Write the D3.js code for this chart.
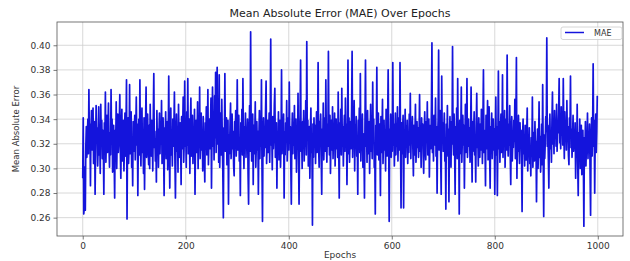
<!DOCTYPE html>
<html>
<head>
<meta charset="utf-8">
<script src="https://cdn.jsdelivr.net/npm/d3@7"></script>
<style>
  body { margin: 0; background: #fff; }
  text { font-family: "DejaVu Sans", sans-serif; }
</style>
</head>
<body>
<div id="chart"></div>
<script>
const title = "Mean Absolute Error (MAE) Over Epochs";
const xLabel = "Epochs";
const yLabel = "Mean Absolute Error";
const seriesName = "MAE";
const xTicks = [0, 200, 400, 600, 800, 1000];
const yTicks = [0.26, 0.28, 0.30, 0.32, 0.34, 0.36, 0.38, 0.40];

// MAE per epoch (epochs 0..999)
const mae = [
  // 0-49
  0.292,0.341,0.263,0.268,0.301,0.266,0.318,0.334,0.309,0.327,
  0.340,0.312,0.364,0.321,0.336,0.286,0.330,0.347,0.315,0.329,
  0.349,0.304,0.325,0.338,0.279,0.317,0.351,0.322,0.333,0.302,
  0.319,0.350,0.311,0.328,0.296,0.352,0.324,0.339,0.308,0.331,
  0.316,0.279,0.337,0.320,0.362,0.305,0.326,0.343,0.313,0.334,
  // 50-99
  0.353,0.318,0.301,0.329,0.311,0.364,0.325,0.340,0.297,0.322,
  0.335,0.309,0.276,0.331,0.318,0.354,0.300,0.327,0.344,0.313,
  0.321,0.337,0.360,0.315,0.292,0.330,0.348,0.306,0.324,0.339,
  0.298,0.319,0.345,0.310,0.333,0.372,0.259,0.323,0.341,0.304,
  0.317,0.368,0.312,0.329,0.346,0.301,0.320,0.286,0.338,0.326,
  // 100-149
  0.314,0.343,0.307,0.331,0.358,0.319,0.336,0.278,0.325,0.340,
  0.311,0.372,0.318,0.302,0.334,0.349,0.313,0.327,0.296,0.341,
  0.283,0.322,0.338,0.366,0.309,0.329,0.344,0.316,0.303,0.335,
  0.300,0.352,0.321,0.310,0.339,0.326,0.298,0.343,0.377,0.317,
  0.330,0.306,0.324,0.289,0.347,0.315,0.332,0.301,0.328,0.345,
  // 150-199
  0.312,0.336,0.320,0.355,0.304,0.327,0.341,0.315,0.278,0.333,
  0.319,0.346,0.308,0.325,0.338,0.299,0.322,0.375,0.316,0.284,
  0.330,0.349,0.311,0.326,0.302,0.340,0.318,0.333,0.362,0.307,
  0.276,0.323,0.344,0.314,0.331,0.297,0.352,0.320,0.309,0.337,
  0.324,0.287,0.342,0.316,0.329,0.358,0.305,0.321,0.371,0.318,
  // 200-249
  0.333,0.301,0.346,0.319,0.373,0.312,0.328,0.340,0.296,0.335,
  0.357,0.310,0.325,0.343,0.304,0.331,0.318,0.348,0.279,0.322,
  0.339,0.313,0.327,0.354,0.300,0.336,0.317,0.366,0.308,0.324,
  0.345,0.315,0.331,0.298,0.342,0.320,0.309,0.289,0.337,0.326,
  0.350,0.311,0.329,0.364,0.303,0.323,0.340,0.316,0.334,0.357,
  // 250-299
  0.284,0.331,0.366,0.318,0.342,0.307,0.359,0.325,0.378,0.313,
  0.336,0.382,0.320,0.349,0.305,0.376,0.301,0.328,0.345,0.311,
  0.356,0.322,0.297,0.260,0.333,0.318,0.377,0.314,0.329,0.341,
  0.303,0.324,0.339,0.271,0.327,0.312,0.335,0.353,0.308,0.321,
  0.344,0.316,0.330,0.302,0.294,0.338,0.319,0.347,0.310,0.326,
  // 300-349
  0.372,0.315,0.329,0.343,0.306,0.322,0.278,0.337,0.318,0.348,
  0.311,0.373,0.326,0.300,0.334,0.317,0.345,0.309,0.331,0.323,
  0.340,0.296,0.271,0.328,0.351,0.314,0.411,0.332,0.306,0.320,
  0.344,0.287,0.335,0.312,0.327,0.354,0.301,0.319,0.338,0.315,
  0.330,0.279,0.324,0.347,0.308,0.336,0.318,0.372,0.303,0.257,
  // 350-399
  0.326,0.341,0.310,0.333,0.317,0.348,0.371,0.304,0.322,0.339,
  0.313,0.328,0.345,0.305,0.336,0.405,0.319,0.331,0.299,0.342,
  0.316,0.327,0.352,0.365,0.309,0.323,0.337,0.284,0.330,0.314,
  0.346,0.307,0.325,0.339,0.301,0.318,0.380,0.312,0.333,0.320,
  0.344,0.276,0.329,0.311,0.337,0.322,0.355,0.306,0.324,0.341,
  // 400-449
  0.315,0.370,0.321,0.334,0.303,0.271,0.328,0.345,0.312,0.337,
  0.319,0.351,0.308,0.326,0.340,0.297,0.332,0.316,0.361,0.310,
  0.271,0.324,0.343,0.388,0.314,0.329,0.300,0.338,0.320,0.347,
  0.306,0.331,0.318,0.355,0.311,0.403,0.325,0.339,0.302,0.317,
  0.334,0.292,0.327,0.349,0.313,0.322,0.254,0.336,0.309,0.341,
  // 450-499
  0.320,0.335,0.304,0.328,0.346,0.313,0.330,0.386,0.317,0.301,
  0.338,0.323,0.344,0.310,0.279,0.332,0.319,0.353,0.307,0.326,
  0.341,0.314,0.372,0.321,0.305,0.336,0.318,0.395,0.329,0.311,
  0.343,0.296,0.324,0.339,0.315,0.350,0.308,0.331,0.322,0.345,
  0.302,0.327,0.340,0.316,0.333,0.309,0.362,0.319,0.276,0.337,
  // 500-549
  0.325,0.348,0.311,0.365,0.318,0.334,0.302,0.327,0.343,0.314,
  0.357,0.320,0.336,0.287,0.329,0.388,0.312,0.341,0.305,0.323,
  0.338,0.316,0.346,0.395,0.309,0.330,0.321,0.355,0.298,0.335,
  0.317,0.342,0.310,0.326,0.279,0.339,0.322,0.349,0.313,0.377,
  0.306,0.331,0.319,0.344,0.301,0.328,0.315,0.276,0.337,0.388,
  // 550-599
  0.318,0.333,0.305,0.347,0.321,0.312,0.338,0.296,0.326,0.352,
  0.314,0.330,0.308,0.370,0.322,0.340,0.301,0.316,0.263,0.335,
  0.324,0.382,0.311,0.329,0.345,0.307,0.336,0.319,0.278,0.342,
  0.313,0.327,0.356,0.304,0.323,0.339,0.315,0.331,0.298,0.348,
  0.320,0.310,0.337,0.380,0.325,0.257,0.332,0.317,0.344,0.309,
  // 600-649
  0.328,0.314,0.386,0.319,0.336,0.302,0.324,0.345,0.311,0.333,
  0.318,0.350,0.306,0.329,0.341,0.315,0.386,0.322,0.268,0.337,
  0.312,0.330,0.343,0.268,0.326,0.317,0.348,0.309,0.334,0.321,
  0.339,0.304,0.327,0.313,0.344,0.319,0.361,0.308,0.331,0.324,
  0.342,0.316,0.294,0.335,0.311,0.328,0.352,0.305,0.320,0.338,
  // 650-699
  0.317,0.333,0.309,0.325,0.360,0.314,0.330,0.301,0.341,0.322,
  0.336,0.312,0.296,0.329,0.346,0.318,0.307,0.338,0.323,0.354,
  0.311,0.327,0.340,0.293,0.321,0.335,0.316,0.349,0.402,0.313,
  0.331,0.306,0.343,0.319,0.328,0.357,0.310,0.334,0.280,0.324,
  0.339,0.396,0.315,0.330,0.347,0.308,0.279,0.375,0.322,0.337,
  // 700-749
  0.314,0.329,0.345,0.306,0.323,0.267,0.336,0.318,0.351,0.310,
  0.332,0.273,0.327,0.342,0.315,0.301,0.338,0.320,0.399,0.326,
  0.311,0.344,0.317,0.279,0.334,0.322,0.349,0.308,0.373,0.316,
  0.330,0.263,0.339,0.312,0.328,0.366,0.305,0.324,0.343,0.319,
  0.335,0.284,0.321,0.352,0.313,0.329,0.373,0.309,0.326,0.340,
  // 750-799
  0.318,0.333,0.305,0.327,0.366,0.320,0.289,0.338,0.314,0.330,
  0.346,0.311,0.324,0.289,0.335,0.361,0.317,0.329,0.302,0.341,
  0.322,0.309,0.336,0.315,0.348,0.326,0.304,0.339,0.380,0.313,
  0.331,0.320,0.286,0.343,0.316,0.328,0.355,0.307,0.323,0.350,
  0.312,0.284,0.334,0.319,0.345,0.308,0.327,0.340,0.315,0.332,
  // 800-849
  0.279,0.326,0.358,0.311,0.334,0.278,0.321,0.379,0.316,0.338,
  0.305,0.329,0.344,0.313,0.322,0.376,0.309,0.335,0.318,0.347,
  0.301,0.327,0.340,0.315,0.392,0.324,0.310,0.336,0.319,0.351,
  0.312,0.287,0.331,0.342,0.306,0.325,0.317,0.339,0.322,0.356,
  0.308,0.333,0.390,0.292,0.328,0.314,0.343,0.320,0.304,0.337,
  // 850-899
  0.318,0.331,0.309,0.265,0.326,0.340,0.312,0.323,0.302,0.335,
  0.316,0.307,0.328,0.349,0.298,0.320,0.311,0.333,0.304,0.317,
  0.294,0.325,0.310,0.358,0.301,0.319,0.329,0.306,0.338,0.313,
  0.322,0.273,0.315,0.332,0.300,0.318,0.354,0.309,0.326,0.297,
  0.314,0.336,0.303,0.368,0.312,0.261,0.327,0.308,0.321,0.342,
  // 900-949
  0.330,0.406,0.318,0.335,0.309,0.284,0.327,0.344,0.316,0.331,
  0.305,0.338,0.362,0.320,0.334,0.312,0.347,0.326,0.339,0.318,
  0.352,0.314,0.336,0.329,0.345,0.373,0.321,0.340,0.316,0.350,
  0.327,0.343,0.319,0.373,0.331,0.308,0.346,0.323,0.337,0.315,
  0.355,0.322,0.334,0.311,0.303,0.341,0.328,0.375,0.317,0.332,
  // 950-999
  0.309,0.326,0.343,0.314,0.330,0.318,0.337,0.292,0.321,0.311,
  0.352,0.305,0.278,0.329,0.316,0.340,0.300,0.323,0.335,0.295,
  0.318,0.331,0.307,0.253,0.325,0.312,0.338,0.302,0.320,0.316,
  0.345,0.308,0.327,0.314,0.336,0.299,0.262,0.324,0.341,0.310,
  0.332,0.385,0.318,0.339,0.280,0.326,0.344,0.313,0.330,0.359
];

const width = 630, height = 261;
const plot = { left: 57, right: 623, top: 22, bottom: 236 };

// matplotlib-like 5% margins around the data
const pad = (lo, hi) => { const m = (hi - lo) * 0.05; return [lo - m, hi + m]; };
const [ymin, ymax] = d3.extent(mae);
const x = d3.scaleLinear().domain(pad(0, mae.length - 1)).range([plot.left, plot.right]);
const y = d3.scaleLinear().domain(pad(ymin, ymax)).range([plot.bottom, plot.top]);

const svg = d3.select("#chart").append("svg")
  .attr("width", width)
  .attr("height", height);

// grid
const grid = svg.append("g").attr("stroke", "#cfcfcf").attr("stroke-width", 0.8);
grid.selectAll(".gx").data(xTicks).join("line")
  .attr("x1", d => x(d)).attr("x2", d => x(d))
  .attr("y1", plot.top).attr("y2", plot.bottom);
grid.selectAll(".gy").data(yTicks).join("line")
  .attr("x1", plot.left).attr("x2", plot.right)
  .attr("y1", d => y(d)).attr("y2", d => y(d));

// the series
const line = d3.line().x((d, i) => x(i)).y(d => y(d));
svg.append("path")
  .datum(mae)
  .attr("fill", "none")
  .attr("stroke", "#1414dc")
  .attr("stroke-width", 1.7)
  .attr("stroke-linejoin", "round")
  .attr("d", line);

// frame
svg.append("rect")
  .attr("x", plot.left).attr("y", plot.top)
  .attr("width", plot.right - plot.left).attr("height", plot.bottom - plot.top)
  .attr("fill", "none").attr("stroke", "#555").attr("stroke-width", 0.8);

// axes
const xAxis = svg.append("g")
  .attr("transform", `translate(0,${plot.bottom})`)
  .call(d3.axisBottom(x).tickValues(xTicks).tickSize(3.5).tickPadding(3).tickFormat(d3.format("d")));
const yAxis = svg.append("g")
  .attr("transform", `translate(${plot.left},0)`)
  .call(d3.axisLeft(y).tickValues(yTicks).tickSize(3.5).tickPadding(3).tickFormat(d3.format(".2f")));
[xAxis, yAxis].forEach(g => {
  g.select(".domain").remove();
  g.selectAll(".tick line").attr("stroke", "#555").attr("stroke-width", 0.8);
  g.selectAll(".tick text").attr("fill", "#333").style("font-size", "9px")
    .style("font-family", "'DejaVu Sans', sans-serif");
});

// labels
svg.append("text")
  .attr("x", (plot.left + plot.right) / 2).attr("y", 17)
  .attr("text-anchor", "middle").attr("fill", "#222")
  .style("font-size", "11px")
  .text(title);
svg.append("text")
  .attr("x", (plot.left + plot.right) / 2).attr("y", 258)
  .attr("text-anchor", "middle").attr("fill", "#333")
  .style("font-size", "9px")
  .text(xLabel);
svg.append("text")
  .attr("transform", `translate(19,${(plot.top + plot.bottom) / 2}) rotate(-90)`)
  .attr("text-anchor", "middle").attr("fill", "#333")
  .style("font-size", "8.5px")
  .text(yLabel);

// legend
const lg = svg.append("g").attr("transform", "translate(561,27)");
lg.append("rect")
  .attr("width", 61).attr("height", 12.5).attr("rx", 2)
  .attr("fill", "#fff").attr("fill-opacity", 0.8)
  .attr("stroke", "#ccc").attr("stroke-width", 0.8);
lg.append("line")
  .attr("x1", 4).attr("x2", 23).attr("y1", 5.5).attr("y2", 5.5)
  .attr("stroke", "#1414dc").attr("stroke-width", 1.5);
lg.append("text")
  .attr("x", 33).attr("y", 9)
  .attr("fill", "#333").style("font-size", "8px")
  .text(seriesName);
</script>
</body>
</html>
